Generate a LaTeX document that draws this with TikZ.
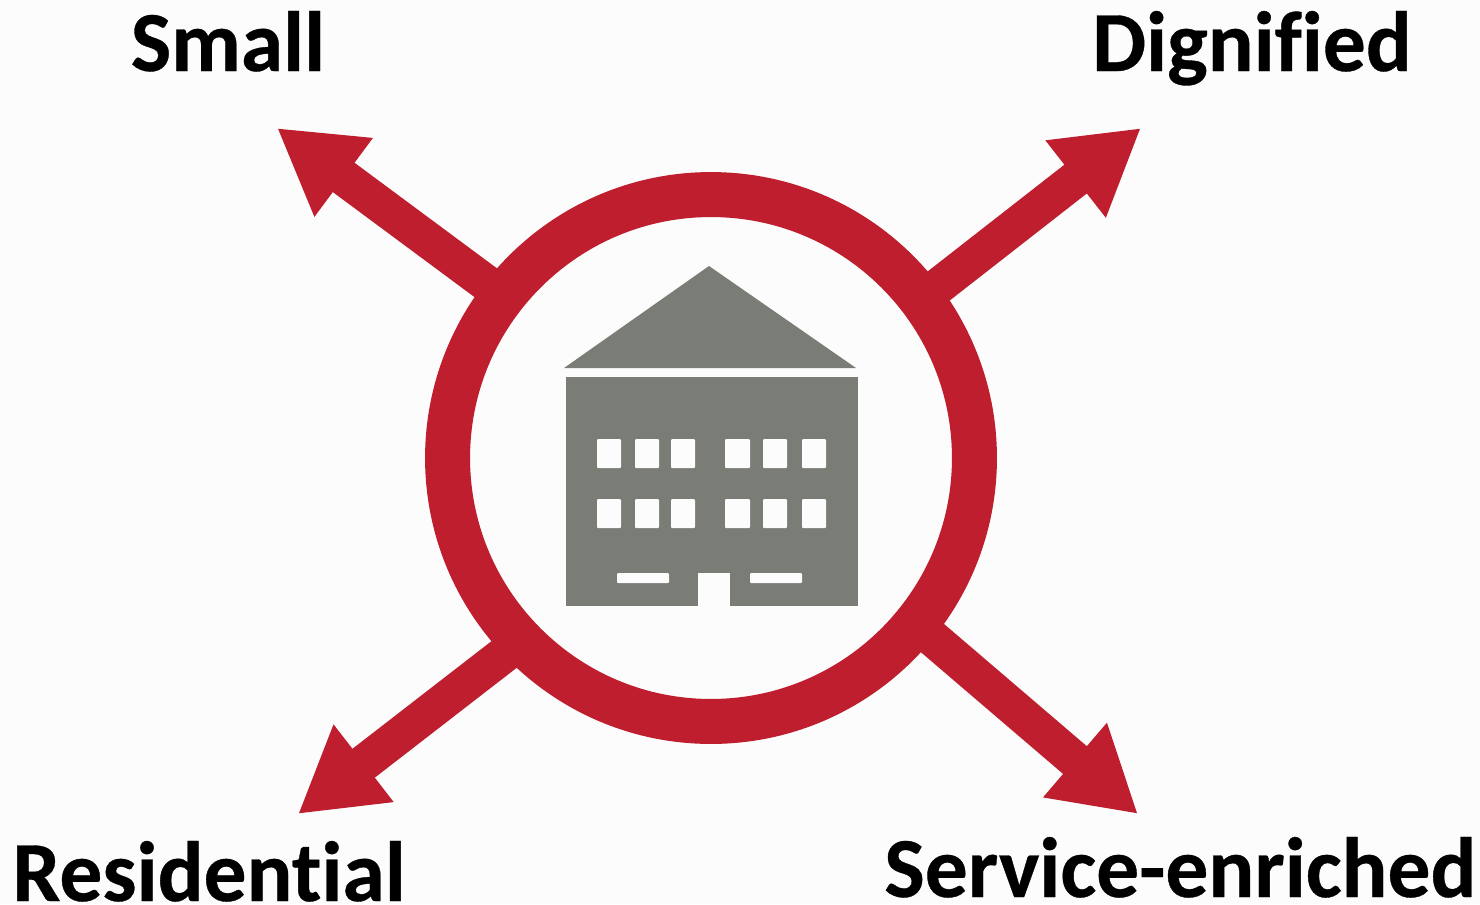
\documentclass[tikz,border=0pt]{standalone}
\usepackage{fontspec}
\setmainfont{Carlito}[Ligatures=NoCommon,BoldFeatures={FakeBold=0.4}]
\usetikzlibrary{arrows.meta}
\definecolor{bgc}{HTML}{FCFCFC}
\definecolor{redc}{HTML}{BE1E2D}
\definecolor{grayc}{HTML}{797D76}
\tikzset{
  px/.style={x=0.02cm,y=-0.02cm},
  spoke/.style={draw=redc,line width=0.73cm,-{Triangle[length=1.66cm,width=1.84cm]}},
  lab/.style={font=\fontsize{48.7}{49}\selectfont\bfseries,text=black,inner sep=0pt,anchor=base},
  win/.style={fill=bgc,draw=none,rounded corners=0.02cm},
  bld/.style={fill=grayc,draw=none}
}
\begin{document}
\begin{tikzpicture}[px]
\path[use as bounding box,fill=bgc] (0,0) rectangle (1480,904);
\node[circle,draw=redc,line width=0.9cm,minimum size=10.54cm,inner sep=0pt,outer sep=0pt] (ring) at (711,458) {};
\coordinate (tl) at (277,128);
\coordinate (tr) at (1141,128);
\coordinate (bl) at (298,814);
\coordinate (br) at (1138,814);
\draw[spoke] (ring.142.4) -- (tl);
\draw[spoke] (ring.37.4) -- (tr);
\draw[spoke] (ring.224.4) -- (bl);
\draw[spoke] (ring.-39.3) -- (br);
\fill[bld] (564,368) -- (709,266) -- (856,368) -- cycle;
\fill[bld] (566,377) rectangle (858,606);
\fill[bgc] (698,573) rectangle (730,606);
\foreach \y in {439,499}{
  \foreach \x/\w in {597/24,635/24,671/24,725/25,763/24,802/24}{
    \fill[win] (\x,\y) rectangle (\x+\w,\y+29);
  }
}
\fill[win] (617,573) rectangle (669,583);
\fill[win] (750,573) rectangle (802,583);
\node[lab] (small) at (228,71) {Small};
\node[lab] (dignified) at (1252,71) {Dignified};
\node[lab] (residential) at (209,901) {Residential};
\node[lab] (service) at (1180.5,897) {Service-enriched};
\end{tikzpicture}
\end{document}
